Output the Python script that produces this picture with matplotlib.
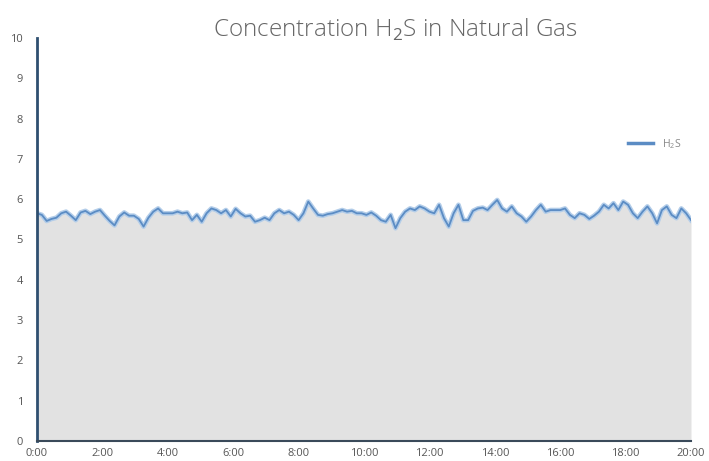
import numpy as np
import matplotlib
matplotlib.use("Agg")
import matplotlib.pyplot as plt

plt.rcParams['font.family'] = ['Open Sans', 'DejaVu Sans']
plt.rcParams['mathtext.fontset'] = 'custom'
plt.rcParams['mathtext.rm'] = 'Open Sans'

# H2S concentration, 0:00 -> 20:00
h2s = [
    5.65, 5.61, 5.46, 5.51, 5.54, 5.65, 5.69, 5.59, 5.48, 5.67, 5.71, 5.63, 5.69, 5.73,
    5.59, 5.46, 5.35, 5.57, 5.67, 5.59, 5.59, 5.51, 5.32, 5.54, 5.69, 5.77, 5.65,
    5.65, 5.65, 5.69, 5.65, 5.67, 5.48, 5.61, 5.44, 5.65, 5.77, 5.73, 5.65, 5.73, 5.57,
    5.76, 5.65, 5.57, 5.59, 5.44, 5.48, 5.54, 5.48, 5.65, 5.73, 5.65, 5.69,
    5.61, 5.48, 5.65, 5.94, 5.77, 5.61, 5.59, 5.63, 5.65, 5.69, 5.73, 5.69, 5.71, 5.65,
    5.65, 5.61, 5.67, 5.59, 5.48, 5.44, 5.61, 5.28, 5.53, 5.69, 5.77, 5.73, 5.82,
    5.77, 5.69, 5.65, 5.86, 5.53, 5.32, 5.65, 5.86, 5.48, 5.48, 5.71, 5.77, 5.79, 5.73,
    5.86, 5.98, 5.77, 5.69, 5.82, 5.65, 5.57, 5.44, 5.57, 5.73, 5.86, 5.69, 5.73, 5.73,
    5.73, 5.77, 5.61, 5.53, 5.65, 5.61, 5.51, 5.59, 5.69, 5.86, 5.77, 5.90, 5.73, 5.94,
    5.86, 5.65, 5.53, 5.69, 5.82, 5.65, 5.40, 5.73, 5.82, 5.61, 5.53, 5.77, 5.65, 5.48,
]
hours = np.linspace(0, 20, len(h2s))

x_ticks = [0, 2, 4, 6, 8, 10, 12, 14, 16, 18, 20]
x_labels = ["0:00", "2:00", "4:00", "6:00", "8:00", "10:00",
            "12:00", "14:00", "16:00", "18:00", "20:00"]
y_ticks = [0, 1, 2, 3, 4, 5, 6, 7, 8, 9, 10]

fig = plt.figure(figsize=(7.09, 4.61), dpi=100)
ax = fig.add_axes([0.0522, 0.0434, 0.9224, 0.8742])

ax.fill_between(hours, 0, h2s, color='#e2e2e2', lw=0)
# soft halo + core to mimic the blurred line
ax.plot(hours, h2s, color='#b3cde9', lw=3.4, solid_joinstyle='round')
ax.plot(hours, h2s, color='#5b8cc4', lw=1.3, solid_joinstyle='round', label='H$_2$S')

ax.set_xlim(0, 20)
ax.set_ylim(0, 10)
ax.set_xticks(x_ticks)
ax.set_xticklabels(x_labels)
ax.set_yticks(y_ticks)
ax.tick_params(axis='both', length=0, labelsize=8, colors='#555555')
ax.tick_params(axis='y', pad=10)
ax.tick_params(axis='x', pad=5)

for side in ['top', 'right']:
    ax.spines[side].set_visible(False)
ax.spines['left'].set_color('#2f4f70')
ax.spines['left'].set_linewidth(2)
ax.spines['bottom'].set_color('#3a4a5a')
ax.spines['bottom'].set_linewidth(1.5)

fig.text(0.557, 0.935, 'Concentration H$_2$S in Natural Gas', ha='center', va='center',
         fontsize=17.5, fontweight='light', color='#666666')

leg = ax.legend(loc='upper left', bbox_to_anchor=(0.89, 0.778), frameon=False,
                fontsize=7.5, handlelength=2.4, labelcolor='#888888')
for line in leg.get_lines():
    line.set_linewidth(2.5)

fig.savefig('out.png', dpi=100)
